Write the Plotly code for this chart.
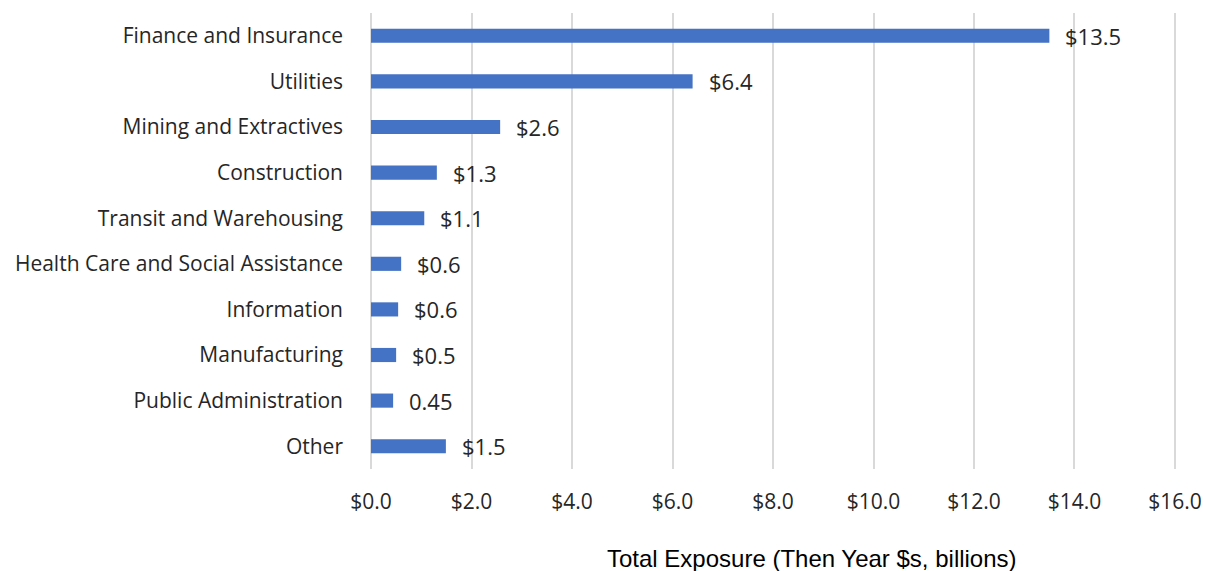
import plotly.graph_objects as go

categories = ["Finance and Insurance", "Utilities", "Mining and Extractives", "Construction",
              "Transit and Warehousing", "Health Care and Social Assistance", "Information",
              "Manufacturing", "Public Administration", "Other"]
values = [13.5, 6.4, 2.57, 1.31, 1.06, 0.6, 0.54, 0.5, 0.44, 1.49]
labels = ["$13.5", "$6.4", "$2.6", "$1.3", "$1.1", "$0.6", "$0.6", "$0.5", "0.45", "$1.5"]
tick_vals = [0, 2, 4, 6, 8, 10, 12, 14, 16]
tick_text = ["$0.0", "$2.0", "$4.0", "$6.0", "$8.0", "$10.0", "$12.0", "$14.0", "$16.0"]

font_main = "Open Sans, Carlito, Calibri, sans-serif"

fig = go.Figure()
fig.add_trace(go.Bar(
    y=categories, x=values, orientation="h",
    marker=dict(color="#4472C4", line=dict(width=0)),
    width=0.31, hoverinfo="skip",
))

for c, v, t in zip(categories, values, labels):
    fig.add_annotation(x=v, y=c, text=t, showarrow=False, xanchor="left", xshift=14,
                       font=dict(family=font_main, size=22, color="#262626"))

fig.add_annotation(xref="paper", yref="paper", x=0.5485, y=-0.197,
                   text="Total Exposure (Then Year $s, billions)", showarrow=False,
                   xanchor="center", yanchor="middle",
                   font=dict(family="Liberation Sans, Arial, sans-serif", size=24, color="#000000"))

fig.update_layout(
    width=1206, height=571,
    margin=dict(l=369, r=29, t=13, b=102, autoexpand=False),
    paper_bgcolor="white", plot_bgcolor="white",
    showlegend=False,
    xaxis=dict(range=[-0.04, 16.04], tickvals=tick_vals, ticktext=tick_text, automargin=False,
               showgrid=True, gridcolor="#d9d9d9", gridwidth=2, zeroline=False,
               showline=False, ticks="", ticklabelstandoff=18,
               tickfont=dict(family=font_main, size=21, color="#262626")),
    yaxis=dict(autorange="reversed", showgrid=False, zeroline=False, showline=False,
               ticks="", ticklabelstandoff=25, automargin=False,
               tickfont=dict(family=font_main, size=21, color="#262626")),
)

fig.write_html("out.html", config={"displayModeBar": False},
               post_script="document.body.style.margin='0';document.body.style.overflow='hidden';")
